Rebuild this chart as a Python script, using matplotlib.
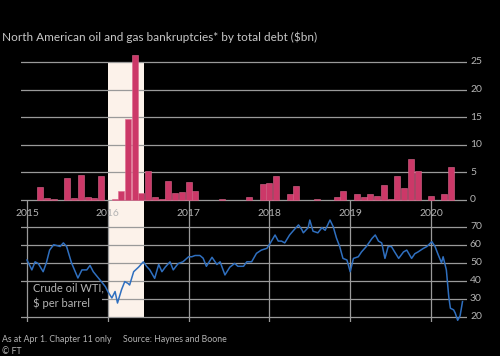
import matplotlib
matplotlib.use("Agg")
import matplotlib.pyplot as plt
import matplotlib.transforms as mtrans
from matplotlib.patches import Rectangle

# ---------------- data ----------------
bar_months = ["2015-03", "2015-04", "2015-05", "2015-07", "2015-08", "2015-09", "2015-10",
              "2015-11", "2015-12", "2016-02", "2016-03", "2016-04", "2016-05", "2016-06",
              "2016-07", "2016-08", "2016-09", "2016-10", "2016-11", "2016-12", "2017-01",
              "2017-02", "2017-06", "2017-10", "2017-12", "2018-01", "2018-02", "2018-04",
              "2018-05", "2018-08", "2018-11", "2018-12", "2019-02", "2019-03", "2019-04",
              "2019-05", "2019-06", "2019-07", "2019-08", "2019-09", "2019-10", "2019-11",
              "2020-01", "2020-03", "2020-04"]
bar_debt = [2.3, 0.3, 0.2, 4.0, 0.3, 4.6, 0.5,
            0.3, 4.3, 0.1, 1.7, 14.7, 26.3, 1.3,
            5.2, 0.5, 0.2, 3.4, 1.2, 1.4, 3.2,
            1.7, 0.1, 0.5, 2.9, 3.05, 4.4, 1.1,
            2.5, 0.1, 0.5, 1.6, 1.1, 0.5, 1.1,
            0.8, 2.8, 0.2, 4.4, 2.1, 7.5, 5.2,
            0.8, 1.1, 5.9]

wti_time = [2015.00, 2015.06, 2015.10, 2015.14, 2015.20, 2015.24, 2015.28, 2015.33, 2015.41,
            2015.45, 2015.49, 2015.55, 2015.63, 2015.68, 2015.74, 2015.78, 2015.82, 2015.92,
            2015.97, 2016.00, 2016.05, 2016.09, 2016.12, 2016.17, 2016.21, 2016.25, 2016.27,
            2016.32, 2016.38, 2016.44, 2016.48, 2016.52, 2016.58, 2016.63, 2016.67, 2016.71,
            2016.77, 2016.81, 2016.87, 2016.93, 2017.00, 2017.04, 2017.08, 2017.14, 2017.18,
            2017.22, 2017.29, 2017.35, 2017.39, 2017.45, 2017.51, 2017.57, 2017.61, 2017.68,
            2017.72, 2017.78, 2017.84, 2017.90, 2017.97, 2018.01, 2018.07, 2018.11, 2018.15,
            2018.19, 2018.25, 2018.30, 2018.36, 2018.40, 2018.42, 2018.48, 2018.50, 2018.54,
            2018.60, 2018.65, 2018.69, 2018.75, 2018.79, 2018.83, 2018.87, 2018.91, 2018.96,
            2019.00, 2019.04, 2019.10, 2019.14, 2019.20, 2019.27, 2019.31, 2019.35, 2019.39,
            2019.43, 2019.47, 2019.51, 2019.55, 2019.60, 2019.66, 2019.70, 2019.76, 2019.80,
            2019.84, 2019.90, 2019.95, 2020.01, 2020.05, 2020.09, 2020.13, 2020.15, 2020.19,
            2020.22, 2020.24, 2020.28, 2020.30, 2020.33, 2020.36, 2020.39]
wti_price = [51.5, 46.0, 50.5, 49.5, 45.0, 50.0, 57.0, 60.0, 59.0,
             61.0, 59.0, 50.0, 41.5, 46.0, 46.0, 48.5, 45.0, 39.5,
             36.7, 34.0, 30.4, 34.0, 27.6, 35.0, 39.5, 38.5, 37.6,
             45.0, 47.5, 50.5, 48.0, 46.0, 41.3, 49.0, 45.0, 47.5,
             50.5, 46.0, 49.5, 50.5, 53.3, 53.3, 54.0, 54.0, 52.5,
             48.0, 53.0, 49.0, 50.5, 43.2, 47.5, 49.6, 48.0, 48.0,
             50.5, 50.5, 55.2, 57.0, 58.0, 60.8, 65.4, 62.0, 62.0,
             61.0, 65.4, 68.0, 71.0, 68.5, 66.6, 69.5, 73.7, 67.5,
             66.6, 69.5, 68.0, 73.7, 70.0, 63.7, 59.0, 52.4, 51.5,
             45.0, 52.4, 53.3, 56.0, 59.0, 63.5, 65.4, 62.0, 61.0,
             52.4, 59.0, 59.0, 56.0, 52.4, 56.0, 57.0, 52.4, 55.0,
             56.0, 57.8, 59.0, 61.7, 59.0, 54.3, 50.0, 53.3, 46.0,
             31.0, 24.7, 23.8, 22.0, 18.0, 20.5, 28.4]

years = [2015, 2016, 2017, 2018, 2019, 2020]
debt_ticks = [0, 5, 10, 15, 20, 25]
price_ticks = [20, 30, 40, 50, 60, 70]
highlight = (2016.0, 2016.45)

title = "North American oil and gas bankruptcies* by total debt ($bn)"
line_label = "Crude oil WTI,\n$ per barrel"
note = "As at Apr 1. Chapter 11 only"
source = "Source: Haynes and Boone"
copyright_txt = "© FT"

# ---------------- style ----------------
W, H = 500, 356
BG = "#000000"
GRID = "#9a9a9a"
TXT = "#b4b4b4"
BAR = "#cc3868"
LINE = "#2f6fbf"
BAND = "#fcf2ea"
plt.rcParams["font.family"] = ["Lato", "DejaVu Sans"]

fig = plt.figure(figsize=(W / 100, H / 100), dpi=100, facecolor=BG)


def px_axes(x0, y0, x1, y1):
    return fig.add_axes([x0 / W, 1 - y1 / H, (x1 - x0) / W, (y1 - y0) / H])


x_left = 2015 + (20.7 - 27) / 80.8
x_right = 2015 + (466.7 - 27) / 80.8

# ---- top: bars ----
ax1 = px_axes(20.7, 54, 466.7, 203)
ax1.set_facecolor("none")
ax1.set_xlim(x_left, x_right)
ax1.set_ylim(-3 / 5.52, 25 + 8 / 5.52)
for s in ax1.spines.values():
    s.set_visible(False)
ax1.set_xticks([])
ax1.set_yticks([])
for v in debt_ticks:
    ax1.axhline(v, color=GRID, lw=0.9, zorder=1)
lo, hi = ax1.get_ylim()
ax1.axvspan(highlight[0], highlight[1], ymin=0, ymax=(25 - lo) / (hi - lo),
            color=BAND, lw=0, zorder=0)

bar_x = [int(m[:4]) + (int(m[5:]) - 1) / 12 for m in bar_months]
ax1.bar(bar_x, bar_debt, width=0.9 / 12, color=BAR, edgecolor="#dc6a8e",
        linewidth=0.4, zorder=3)

# ---- bottom: line ----
ax2 = px_axes(20.7, 200.5, 466.7, 322)
ax2.set_facecolor("none")
ax2.set_xlim(x_left, x_right)
ax2.set_ylim(70 - (322 - 226.7) / 1.8, 70 + (226.7 - 200.5) / 1.8)
for s in ax2.spines.values():
    s.set_visible(False)
ax2.set_xticks([])
ax2.set_yticks([])
lo2, hi2 = ax2.get_ylim()
ax2.axvspan(highlight[0], highlight[1], ymin=(20 - lo2) / (hi2 - lo2), ymax=1,
            color=BAND, lw=0, zorder=0)
for v in price_ticks:
    ax2.axhline(v, color=GRID, lw=0.9, zorder=1)
# black mask behind the series label (hides horizontal gridlines only)
ax2.add_patch(Rectangle((x_left, 27.0), 2015.93 - x_left, 8.6, facecolor=BG,
                        edgecolor="none", zorder=1.5))
for y in years:
    ax2.axvline(y, ymin=0, ymax=1, color=GRID, lw=0.9, zorder=2)
    ax2.text(y, 77.5, str(y), color=TXT, fontsize=7.5, ha="center", va="center",
             zorder=2.5)
ax2.plot(wti_time, wti_price, color=LINE, lw=1.1, zorder=4)
ax2.text(2015.07, 31.6, line_label, color=TXT, fontsize=8, ha="left", va="center",
         linespacing=1.35, zorder=3)

# right-side tick labels
tr1 = mtrans.blended_transform_factory(fig.transFigure, ax1.transData)
for v in debt_ticks:
    ax1.text(470 / W, v, str(v), transform=tr1, color=TXT, fontsize=7.5,
             va="center", ha="left", clip_on=False)
tr2 = mtrans.blended_transform_factory(fig.transFigure, ax2.transData)
for v in price_ticks:
    ax2.text(470 / W, v, str(v), transform=tr2, color=TXT, fontsize=7.5,
             va="center", ha="left", clip_on=False)

# ---- texts ----
fig.text(2 / W, 1 - 37 / H, title, color="#c8c8c8", fontsize=8.5, ha="left", va="center")
fig.text(2 / W, 1 - 340 / H, note, color=TXT, fontsize=6.3, ha="left", va="center")
fig.text(123 / W, 1 - 340 / H, source, color=TXT, fontsize=6.3, ha="left", va="center")
fig.text(2 / W, 1 - 351 / H, copyright_txt, color=TXT, fontsize=6.3, ha="left", va="center")

fig.savefig("out.png", dpi=100, facecolor=BG)
